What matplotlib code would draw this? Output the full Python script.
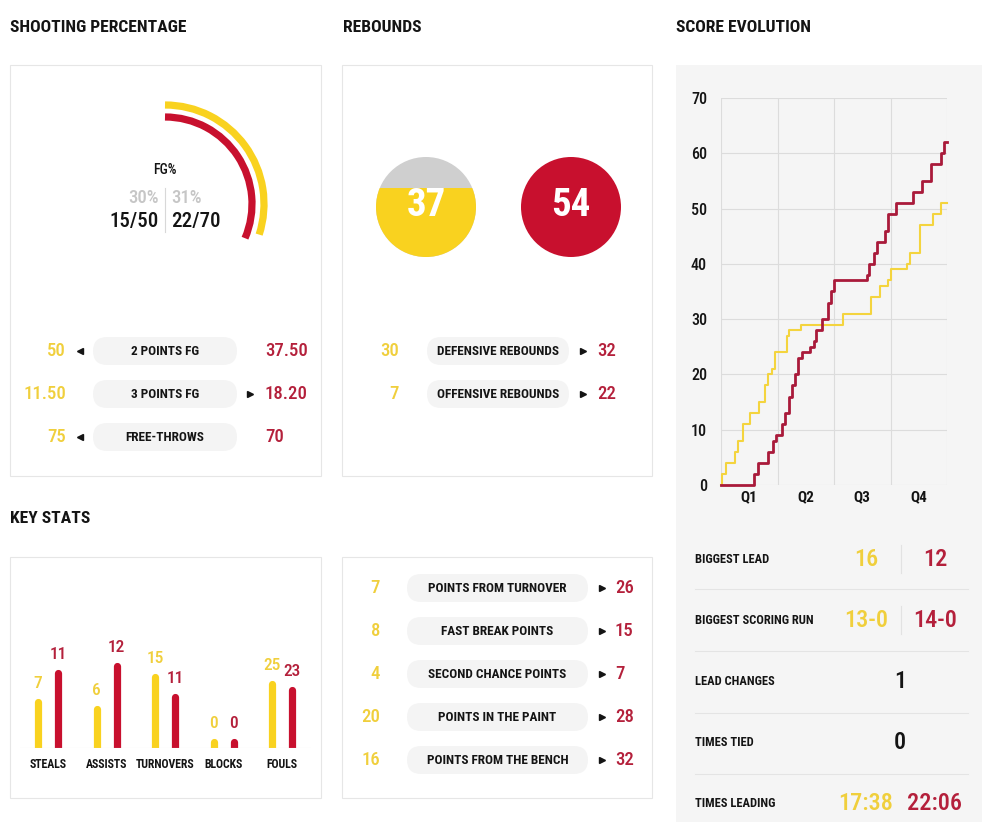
import matplotlib
matplotlib.use('Agg')
import matplotlib.pyplot as plt
from matplotlib.patches import Rectangle, FancyBboxPatch, Arc, Circle
from matplotlib import font_manager as fm

# ------------------------- data -------------------------
fg_made = [15, 22]
fg_att = [50, 70]
fg_pct_labels = ['30%', '31%']

shoot_labels = ['2 POINTS FG', '3 POINTS FG', 'FREE-THROWS']
shoot_home = ['50', '11.50', '75']
shoot_away = ['37.50', '18.20', '70']
shoot_better = ['home', 'away', 'home']

reb_total = [37, 54]
reb_labels = ['DEFENSIVE REBOUNDS', 'OFFENSIVE REBOUNDS']
reb_home = ['30', '7']
reb_away = ['32', '22']
reb_better = ['away', 'away']

key_cats = ['STEALS', 'ASSISTS', 'TURNOVERS', 'BLOCKS', 'FOULS']
key_home = [7, 6, 15, 0, 25]
key_away = [11, 12, 11, 0, 23]
key_ref = [14.1, 14.1, 20.0, 14.1, 37.3]   # per-category reference maximum

pts_labels = ['POINTS FROM TURNOVER', 'FAST BREAK POINTS', 'SECOND CHANCE POINTS',
              'POINTS IN THE PAINT', 'POINTS FROM THE BENCH']
pts_home = ['7', '8', '4', '20', '16']
pts_away = ['26', '15', '7', '28', '32']
pts_better = ['away'] * 5

home_t = [0, 0.2, 0.8, 2.4, 3.0, 3.9, 5.2, 6.8, 7.8, 8.3, 9.0, 9.5, 11.6, 12.1, 14.1,
          21.6, 26.6, 28.1, 29.6, 30.0, 32.9, 33.4, 35.2, 37.5, 39.0, 40]
home_s = [0, 2, 4, 6, 8, 11, 13, 15, 18, 20, 21, 24, 27, 28, 29,
          31, 34, 36, 37, 39, 40, 42, 47, 49, 51, 51]
away_t = [0, 5.8, 6.5, 8.4, 9.2, 9.8, 10.8, 11.4, 12.0, 12.5, 13.1, 13.7, 14.3, 15.8,
          16.5, 16.9, 17.8, 19.0, 19.4, 20.0, 25.8, 26.2, 27.1, 27.6, 29.0, 29.6, 30.9,
          34.0, 35.5, 37.2, 39.0, 39.4, 40]
away_s = [0, 2, 4, 6, 8, 9, 11, 13, 16, 18, 20, 23, 24, 25,
          26, 28, 30, 33, 35, 37, 38, 40, 42, 44, 46, 49, 51,
          53, 55, 58, 60, 62, 62]
quarters = ['Q1', 'Q2', 'Q3', 'Q4']

summary_labels = ['BIGGEST LEAD', 'BIGGEST SCORING RUN', 'LEAD CHANGES', 'TIMES TIED', 'TIMES LEADING']
summary_home = ['16', '13-0', None, None, '17:38']
summary_away = ['12', '14-0', None, None, '22:06']
summary_shared = [None, None, '1', '0', None]

# ------------------------- style -------------------------
names = {f.name for f in fm.fontManager.ttflist}
def pick(c):
    for n in c:
        if n in names:
            return n
    return 'DejaVu Sans'
COND = pick(['Liberation Sans Narrow', 'Roboto Condensed', 'DejaVu Sans Condensed',
             'Open Sans Condensed', 'Roboto'])

YEL = '#f9d21f'
RED = '#c8102e'
YEL_T = '#f0cf3c'
RED_T = '#b4203b'
DARK = '#141414'
GREY_T = '#c6c6c6'
PILL = '#f4f4f4'
BORDER = '#e6e6e6'

fig = plt.figure(figsize=(9.82, 8.22), dpi=100)
ax = fig.add_axes([0, 0, 1, 1])
ax.set_xlim(0, 982)
ax.set_ylim(822, 0)
ax.axis('off')

def T(x, y, s, size, color=DARK, weight='bold', ha='left', va='center', z=5):
    ax.text(x, y, s, fontsize=size, color=color, fontweight=weight, ha=ha, va=va,
            family=[COND, 'DejaVu Sans'], zorder=z)

# panels
for (x0, y0, x1, y1) in [(10, 65, 321, 476), (342, 65, 652, 476),
                         (10, 557, 321, 798), (342, 557, 652, 798)]:
    ax.add_patch(Rectangle((x0, y0), x1 - x0, y1 - y0, facecolor='white',
                           edgecolor=BORDER, lw=0.8, zorder=1))
ax.add_patch(Rectangle((676, 65), 306, 757, facecolor='#f5f5f5', edgecolor='none', zorder=1))

# headings
T(10, 27, 'SHOOTING PERCENTAGE', 12.6)
T(343, 27, 'REBOUNDS', 12.6)
T(676, 27, 'SCORE EVOLUTION', 12.6)
T(10, 518, 'KEY STATS', 12.6)

# ---- shooting percentage arcs ----
cx, cy = 165, 204
for r, made, att, col in [(99, fg_made[0], fg_att[0], YEL), (87, fg_made[1], fg_att[1], RED)]:
    sweep = 360.0 * made / att
    ax.add_patch(Arc((cx, cy), 2 * r, 2 * r, theta1=-90, theta2=-90 + sweep,
                     color=col, lw=5.2, zorder=3))
T(cx, 170, 'FG%', 10, ha='center', weight='medium')
T(cx - 6, 198, fg_pct_labels[0], 13.5, color=GREY_T, ha='right', weight='medium')
T(cx + 6, 198, fg_pct_labels[1], 13.5, color=GREY_T, ha='left', weight='medium')
T(cx - 6, 221, f'{fg_made[0]}/{fg_att[0]}', 15, weight='medium', ha='right')
T(cx + 6, 221, f'{fg_made[1]}/{fg_att[1]}', 15, weight='medium', ha='left')
ax.plot([cx, cx], [188, 232], color='#d8d8d8', lw=0.8, zorder=4)

def stat_rows(ys, labels, home, away, better, pill_x0, pill_x1, lx, la, ra, rx, lsize=9.5):
    for y, lab, h, a, b in zip(ys, labels, home, away, better):
        ax.add_patch(FancyBboxPatch((pill_x0, y - 14), pill_x1 - pill_x0, 28,
                                    boxstyle='round,pad=0,rounding_size=14',
                                    facecolor=PILL, edgecolor='none', zorder=2))
        T((pill_x0 + pill_x1) / 2, y, lab, lsize, ha='center')
        T(lx, y, h, 13.5, color=YEL_T, weight='medium', ha='right')
        T(rx, y, a, 13.5, color=RED_T, weight='medium', ha='left')
        if b == 'home':
            ax.plot(la, y, marker='<', ms=4.5, color=DARK, zorder=5)
        else:
            ax.plot(ra, y, marker='>', ms=4.5, color=DARK, zorder=5)

stat_rows([351, 394, 437], shoot_labels, shoot_home, shoot_away, shoot_better,
          93, 237, 66, 80, 250, 265)

# ---- rebounds circles ----
r_c = 50
c1 = Circle((426, 207), r_c, facecolor='#cfcfcf', edgecolor='none', zorder=2)
ax.add_patch(c1)
fill = reb_total[0] / max(reb_total)
yb = 207 + r_c
rect = Rectangle((426 - r_c, yb - 2 * r_c * fill), 2 * r_c, 2 * r_c * fill,
                 facecolor=YEL, edgecolor='none', zorder=3)
ax.add_patch(rect)
rect.set_clip_path(c1)
ax.add_patch(Circle((571, 207), r_c * reb_total[1] / max(reb_total), facecolor=RED,
                    edgecolor='none', zorder=2))
T(426, 205, str(reb_total[0]), 28, color='white', ha='center')
T(571, 205, str(reb_total[1]), 28, color='white', ha='center')

stat_rows([351, 394], reb_labels, reb_home, reb_away, reb_better,
          427, 569, 399, 412, 583, 597)

# ---- points rows ----
stat_rows([588, 631, 674, 717, 760], pts_labels, pts_home, pts_away, pts_better,
          407, 588, 380, 393, 602, 615)

# ---- key stats bars ----
bax = fig.add_axes([20 / 982, 1 - 748 / 822, 291 / 982, 100 / 822])
bax.set_facecolor('none')
bax.set_xlim((20 - 48) / 58.5, (311 - 48) / 58.5)
bax.set_ylim(0, 1)
bax.axis('off')
off = 10 / 58.5
cap = 3.5 / 100
hh = [max(v / r, 0.1) for v, r in zip(key_home, key_ref)]
ha_ = [max(v / r, 0.1) for v, r in zip(key_away, key_ref)]
xs = list(range(len(key_cats)))
bax.vlines([x - off for x in xs], 0, [h - cap for h in hh], color=YEL, lw=5.2)
bax.vlines([x + off for x in xs], 0, [h - cap for h in ha_], color=RED, lw=5.2)
for lc in bax.collections:
    lc.set_capstyle('round')
bax.axhline(0, color='#e6e6e6', lw=0.8)
for i, cat in enumerate(key_cats):
    bax.text(i - off, hh[i] + 0.15, str(key_home[i]), ha='center', va='center', fontsize=12.5,
             color=YEL_T, fontweight='medium', family=[COND, 'DejaVu Sans'], clip_on=False)
    bax.text(i + off, ha_[i] + 0.15, str(key_away[i]), ha='center', va='center', fontsize=12.5,
             color=RED_T, fontweight='medium', family=[COND, 'DejaVu Sans'], clip_on=False)
    bax.text(i, -0.16, cat, ha='center', va='center', fontsize=8.5, fontweight='bold',
             color=DARK, family=[COND, 'DejaVu Sans'], clip_on=False)

# ---- score evolution ----
sax = fig.add_axes([721 / 982, 1 - 485 / 822, 226 / 982, 387 / 822])
sax.set_facecolor('none')
sax.set_xlim(0, 40)
sax.set_ylim(0, 70)
for s in sax.spines.values():
    s.set_visible(False)
for v in range(0, 71, 10):
    sax.axhline(v, color='#dcdcdc', lw=0.8, zorder=0)
for v in range(0, 41, 10):
    sax.axvline(v, color='#dcdcdc', lw=0.8, zorder=0)
sax.step(home_t, home_s, where='post', color='#f4d43e', lw=1.5, clip_on=False, zorder=3)
sax.step(away_t, away_s, where='post', color='#a91a3a', lw=2.0, clip_on=False, zorder=4)
sax.set_yticks(range(0, 71, 10))
sax.set_xticks([5, 15, 25, 35])
sax.set_xticklabels(quarters)
sax.tick_params(length=0)
sax.tick_params(axis='y', pad=10)
sax.tick_params(axis='x', pad=4)
for lab in sax.get_yticklabels():
    lab.set_fontsize(11.5); lab.set_family([COND, 'DejaVu Sans']); lab.set_color(DARK)
    lab.set_fontweight('medium')
for lab in sax.get_xticklabels():
    lab.set_fontsize(11); lab.set_family([COND, 'DejaVu Sans']); lab.set_color(DARK)
    lab.set_fontweight('bold')

# ---- summary ----
sum_y = [559, 620, 681, 742, 803]
for y in [589, 651, 713, 774]:
    ax.plot([695, 968], [y, y], color='#e4e4e4', lw=0.8, zorder=2)
for i, (lab, h, a, sh) in enumerate(zip(summary_labels, summary_home, summary_away, summary_shared)):
    y = sum_y[i]
    T(695, y, lab, 9)
    if sh is not None:
        T(900, y, sh, 17.5, ha='center', weight='medium')
    else:
        T(866, y, h, 17.5, color=YEL_T, ha='center', weight='medium')
        T(935, y, a, 17.5, color=RED_T, ha='center', weight='medium')
        if i < 2:
            ax.plot([901, 901], [y - 14, y + 14], color='#e2e2e2', lw=0.8, zorder=2)

fig.savefig('out.png', dpi=100)
